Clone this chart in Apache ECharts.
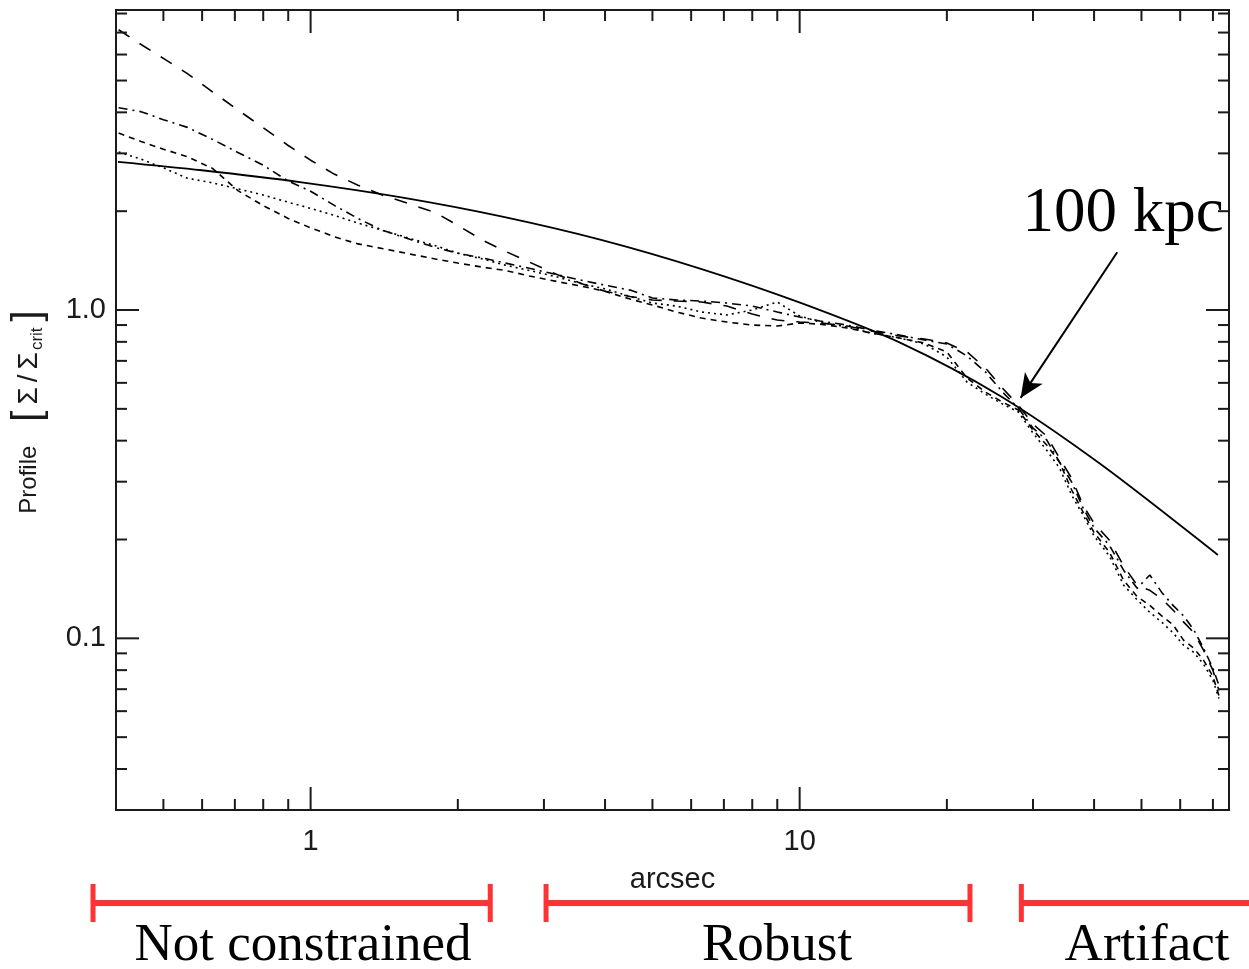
<!DOCTYPE html>
<html>
<head>
<meta charset="utf-8">
<title>Profile</title>
<script src="https://cdn.jsdelivr.net/npm/echarts@6/dist/echarts.min.js"></script>
<style>
  html, body { margin: 0; padding: 0; background: #fff; }
  #chart { width: 1249px; height: 969px; }
</style>
</head>
<body>
<div id="chart"></div>
<script>
// Radial positions (arcsec) shared by the four measured profiles
const radius = [0.405, 0.45, 0.5, 0.56, 0.63, 0.71, 0.8, 0.9, 1.0, 1.12, 1.25, 1.4, 1.6, 1.8, 2.0, 2.25, 2.5, 2.8, 3.2, 3.6, 4.0, 4.5,
  5.0, 5.6, 6.3, 7.1, 8.0, 9.0, 10, 11, 12.5, 14, 16, 18, 20, 22, 24, 26, 28, 30, 32, 34, 36, 38, 40, 43, 46, 49, 52, 55, 58, 61, 64, 67, 70, 72];

// Measured profiles, Sigma / Sigma_crit
const profileA = [7.14, 6.44, 5.84, 5.25, 4.62, 4.07, 3.59, 3.17, 2.86, 2.59, 2.40, 2.24, 2.10, 1.98, 1.81, 1.63, 1.51, 1.40, 1.28, 1.20, 1.14, 1.10,
  1.073, 1.065, 1.058, 1.028, 0.972, 0.932, 0.919, 0.913, 0.894, 0.863, 0.833, 0.816, 0.793, 0.745, 0.665, 0.578, 0.513, 0.449, 0.413, 0.354,
  0.307, 0.254, 0.224, 0.199, 0.166, 0.145, 0.140, 0.132, 0.122, 0.112, 0.104, 0.0919, 0.0799, 0.0694];
const profileB = [4.13, 4.02, 3.80, 3.60, 3.31, 3.02, 2.76, 2.47, 2.30, 2.08, 1.90, 1.75, 1.64, 1.55, 1.49, 1.44, 1.39, 1.34, 1.28, 1.23, 1.19, 1.15,
  1.088, 1.073, 1.065, 1.050, 1.028, 0.986, 0.952, 0.926, 0.900, 0.869, 0.839, 0.810, 0.788, 0.724, 0.647, 0.562, 0.503, 0.437, 0.402, 0.344,
  0.299, 0.249, 0.217, 0.192, 0.161, 0.142, 0.156, 0.138, 0.126, 0.117, 0.106, 0.0932, 0.0810, 0.0719];
const profileC = [3.46, 3.26, 3.09, 2.93, 2.70, 2.31, 2.08, 1.90, 1.78, 1.67, 1.59, 1.54, 1.48, 1.43, 1.39, 1.35, 1.32, 1.27, 1.22, 1.18, 1.14, 1.08,
  1.036, 0.986, 0.945, 0.919, 0.900, 0.894, 0.913, 0.906, 0.882, 0.851, 0.822, 0.793, 0.745, 0.620, 0.562, 0.524, 0.496, 0.431, 0.388, 0.344,
  0.283, 0.242, 0.210, 0.183, 0.150, 0.134, 0.126, 0.117, 0.110, 0.0986, 0.0932, 0.0857, 0.0766, 0.0670];
const profileD = [3.03, 2.88, 2.71, 2.52, 2.44, 2.34, 2.24, 2.13, 2.04, 1.94, 1.84, 1.75, 1.65, 1.57, 1.49, 1.43, 1.37, 1.32, 1.26, 1.20, 1.16, 1.10,
  1.050, 1.028, 0.986, 0.966, 1.0, 1.058, 0.959, 0.919, 0.888, 0.851, 0.822, 0.788, 0.719, 0.603, 0.554, 0.517, 0.489, 0.422, 0.374, 0.330,
  0.273, 0.237, 0.205, 0.178, 0.145, 0.131, 0.120, 0.112, 0.104, 0.0952, 0.0906, 0.0833, 0.0745, 0.0656];

// Model profile
const modelRadius = [0.4037, 0.599, 0.9586, 1.533, 2.453, 3.926, 6.281, 10.05, 16.08, 25.72, 41.15, 71.65];
const modelProfile = [2.827, 2.665, 2.449, 2.204, 1.929, 1.636, 1.335, 1.051, 0.794, 0.547, 0.340, 0.1794];

// Axis ranges and tick values
const xRange = [0.4, 75.5];
const yRange = [0.03, 8.2];
const xMajorTicks = [1, 10];
const xMinorTicks = [0.5, 0.6, 0.7, 0.8, 0.9, 2, 3, 4, 5, 6, 7, 8, 9, 20, 30, 40, 50, 60, 70];
const yMajorTicks = [0.1, 1];
const yMinorTicks = [0.04, 0.05, 0.06, 0.07, 0.08, 0.09, 0.2, 0.3, 0.4, 0.5, 0.6, 0.7, 0.8, 0.9, 2, 3, 4, 5, 6, 7, 8];

// Annotation: arrow pointing at 100 kpc
const arrowFrom = [44.6, 1.50];
const arrowTo = [28.3, 0.54];
const arrowText = '100 kpc';

// Radial regimes shown under the axis
const regionNames = ['Not constrained', 'Robust', 'Artifact'];
const regionStart = [0.359, 3.03, 28.4];
const regionEnd = [2.33, 22.3, 90];
const regionClosed = [true, true, false];

const chart = echarts.init(document.getElementById('chart'), null, { renderer: 'canvas' });

const axisFont = '"Liberation Sans", "DejaVu Sans", Arial, sans-serif';
const serifFont = '"Liberation Serif", "DejaVu Serif", "Times New Roman", serif';
const ink = '#1a1a1a';

function pairs(xs, ys) { return xs.map((x, i) => [x, ys[i]]); }

function isDecade(v) {
  const l = Math.log10(v);
  return Math.abs(l - Math.round(l)) < 1e-6;
}

// Inward tick marks on all four sides of the frame
function tickSeries(values, onX, len) {
  return {
    type: 'custom',
    silent: true,
    animation: false,
    z: 5,
    encode: { x: 0, y: 1 },
    data: values.map(v => (onX ? [v, 1] : [1, v])),
    renderItem: function (params, api) {
      const cs = params.coordSys;
      const style = { stroke: ink, lineWidth: 2 };
      if (onX) {
        const px = api.coord([api.value(0), 1])[0];
        const b = cs.y + cs.height, t = cs.y;
        return { type: 'group', children: [
          { type: 'line', shape: { x1: px, y1: b, x2: px, y2: b - len }, style: style },
          { type: 'line', shape: { x1: px, y1: t, x2: px, y2: t + len }, style: style }
        ] };
      }
      const py = api.coord([1, api.value(1)])[1];
      const l = cs.x, r = cs.x + cs.width;
      return { type: 'group', children: [
        { type: 'line', shape: { x1: l, y1: py, x2: l + len, y2: py }, style: style },
        { type: 'line', shape: { x1: r, y1: py, x2: r - len, y2: py }, style: style }
      ] };
    }
  };
}

function profileSeries(name, values, dash) {
  return {
    name: name,
    type: 'line',
    data: pairs(radius, values),
    showSymbol: false,
    animation: false,
    silent: true,
    lineStyle: { color: '#000', width: 1.6, type: dash },
    z: 3
  };
}

const option = {
  backgroundColor: '#fff',
  animation: false,
  grid: {
    left: 116, right: 20, top: 10, bottom: 159,
    show: true, borderColor: ink, borderWidth: 2, backgroundColor: 'transparent',
    containLabel: false, outerBoundsMode: 'none'
  },
  xAxis: {
    type: 'log',
    min: xRange[0], max: xRange[1],
    name: 'arcsec',
    nameLocation: 'middle',
    nameGap: 55,
    nameTextStyle: { fontFamily: axisFont, fontSize: 29, color: ink },
    axisLine: { show: false },
    axisTick: { show: false },
    splitLine: { show: false },
    minorTick: { show: false },
    axisLabel: {
      fontFamily: axisFont, fontSize: 29, color: ink, margin: 17,
      showMinLabel: true, showMaxLabel: true,
      formatter: v => (isDecade(v) && xMajorTicks.some(t => Math.abs(t - v) < 1e-6) ? String(Math.round(v)) : '')
    }
  },
  yAxis: {
    type: 'log',
    min: yRange[0], max: yRange[1],
    name: '{t|Profile}   {b|[}{s|Σ}{sl|/}{s|Σ}{sub|crit}{b|]}',
    nameLocation: 'middle',
    nameRotate: 90,
    nameGap: 70,
    nameTextStyle: {
      fontFamily: axisFont, fontSize: 24, color: ink,
      rich: {
        t: { fontFamily: axisFont, fontSize: 24, color: ink, lineHeight: 34 },
        b: { fontFamily: axisFont, fontSize: 40, color: ink, lineHeight: 34, padding: [0, 4] },
        s: { fontFamily: axisFont, fontSize: 28, color: ink, lineHeight: 34, padding: [0, 2] },
        sl: { fontFamily: axisFont, fontSize: 28, color: ink, lineHeight: 34, padding: [0, 3] },
        sub: { fontFamily: axisFont, fontSize: 17, color: ink, lineHeight: 17, verticalAlign: 'bottom', padding: [0, 2, 0, 0] }
      }
    },
    axisLine: { show: false },
    axisTick: { show: false },
    splitLine: { show: false },
    minorTick: { show: false },
    axisLabel: {
      fontFamily: axisFont, fontSize: 29, color: ink, margin: 10,
      showMinLabel: true, showMaxLabel: true,
      formatter: v => (isDecade(v) && yMajorTicks.some(t => Math.abs(t - v) < 1e-9) ? v.toFixed(1) : '')
    }
  },
  series: [
    {
      name: 'model',
      type: 'line',
      data: pairs(modelRadius, modelProfile),
      showSymbol: false,
      smooth: 0.3,
      animation: false,
      silent: true,
      lineStyle: { color: '#000', width: 1.8, type: 'solid' },
      z: 4,
      markLine: {
        silent: true,
        animation: false,
        symbol: ['none', 'arrow'],
        symbolSize: [16, 24],
        label: { show: false },
        lineStyle: { color: '#000', width: 2, type: 'solid' },
        data: [[{ coord: arrowFrom }, { coord: arrowTo }]]
      }
    },
    profileSeries('profile A', profileA, [13, 12]),
    profileSeries('profile B', profileB, [9, 5, 2, 5]),
    profileSeries('profile C', profileC, [6, 5]),
    profileSeries('profile D', profileD, [2, 4]),
    tickSeries(xMajorTicks, true, 23),
    tickSeries(xMinorTicks, true, 11),
    tickSeries(yMajorTicks, false, 23),
    tickSeries(yMinorTicks, false, 11)
  ]
};

chart.setOption(option);

// Annotations placed from the axes' own scales
const red = '#ff3333';
const bracketY = 810 + 93;
const capHalf = 19;
const labelCenters = [303, 777, 1147];
const graphics = [];

regionNames.forEach((name, i) => {
  const x0 = chart.convertToPixel({ xAxisIndex: 0 }, regionStart[i]);
  const x1 = chart.convertToPixel({ xAxisIndex: 0 }, regionEnd[i]);
  graphics.push({ type: 'line', silent: true, shape: { x1: x0, y1: bracketY, x2: x1, y2: bracketY },
    style: { stroke: red, lineWidth: 6 } });
  graphics.push({ type: 'line', silent: true, shape: { x1: x0, y1: bracketY - capHalf, x2: x0, y2: bracketY + capHalf },
    style: { stroke: red, lineWidth: 5 } });
  if (regionClosed[i]) {
    graphics.push({ type: 'line', silent: true, shape: { x1: x1, y1: bracketY - capHalf, x2: x1, y2: bracketY + capHalf },
      style: { stroke: red, lineWidth: 5 } });
  }
  graphics.push({ type: 'text', silent: true, x: labelCenters[i], y: 946,
    style: { text: name, fill: '#000', font: '53px ' + serifFont, textAlign: 'center', textVerticalAlign: 'middle' } });
});

const arrowStart = chart.convertToPixel({ gridIndex: 0 }, arrowFrom);
graphics.push({ type: 'text', silent: true, x: arrowStart[0] + 6, y: arrowStart[1] - 38,
  style: { text: arrowText, fill: '#000', font: '63px ' + serifFont, textAlign: 'center', textVerticalAlign: 'middle' } });

chart.setOption({ graphic: graphics });
</script>
</body>
</html>
